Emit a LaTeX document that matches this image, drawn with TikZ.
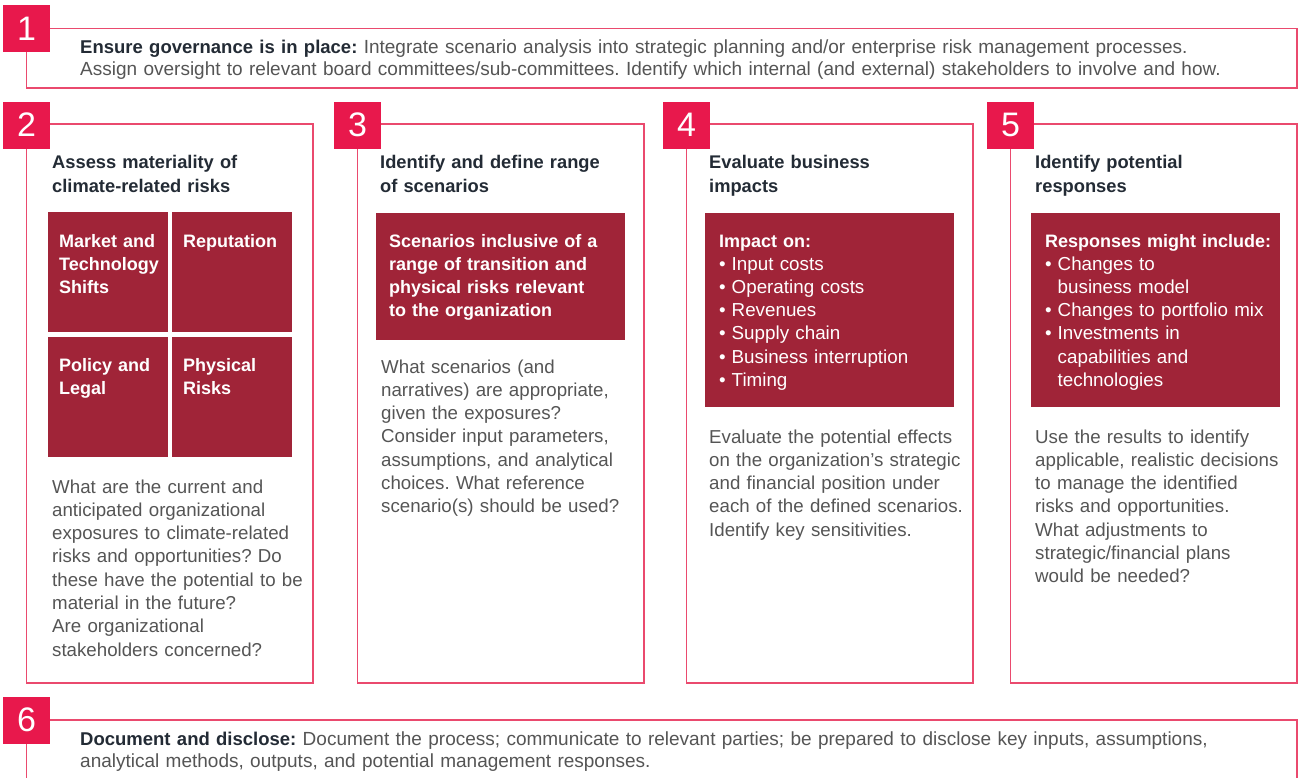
\documentclass[tikz,border=0pt]{standalone}
\usepackage{fontspec}
\setmainfont{Liberation Sans}
\definecolor{numred}{HTML}{E8184C}
\definecolor{framecol}{HTML}{EA4A6E}
\definecolor{darkred}{HTML}{A02438}
\definecolor{bodygray}{HTML}{555555}
\definecolor{headdark}{HTML}{232B35}
\newcommand{\myblt}{\makebox[12.5pt][l]{•}}
\newcommand{\myind}{\hspace*{12.5pt}}
\newcommand{\hb}[1]{{\color{headdark}\fontsize{18.5}{22.8}\selectfont\bfseries #1}}
\tikzset{
  frame/.style={draw=framecol, line width=1.8pt, anchor=north west, inner sep=0pt, outer sep=0pt},
  numbox/.style={fill=numred, minimum size=47pt, inner sep=0pt, text=white, font=\fontsize{34}{34}\selectfont},
  darkbox/.style={fill=darkred, anchor=north west, inner sep=0pt, outer sep=0pt},
  bodytxt/.style={anchor=base west, inner sep=0pt, align=left, text=bodygray, font=\fontsize{18.7}{23.3}\selectfont\frenchspacing},
  headtxt/.style={anchor=base west, inner sep=0pt, align=left, text=headdark, font=\fontsize{18.3}{24}\selectfont\bfseries},
  filltxt/.style={anchor=base west, inner sep=0pt, align=left, text=white, font=\fontsize{18}{23.3}\selectfont\bfseries},
  listtxt/.style={anchor=base west, inner sep=0pt, align=left, text=white, font=\fontsize{18.8}{23.3}\selectfont},
}
\begin{document}
\begin{tikzpicture}[x=1pt,y=-1pt]
\useasboundingbox (0,0) rectangle (1299,777);
\clip (0,0) rectangle (1299,777);
\fill[white] (0,0) rectangle (1299,777);

% ---------- frames ----------
\node[frame, minimum width=1270.5pt, minimum height=59.5pt] (f1) at (26.5,28.5) {};
\node[frame, minimum width=286.5pt, minimum height=559pt] (f2) at (26.5,124) {};
\node[frame, minimum width=286.5pt, minimum height=559pt] (f3) at (357.5,124) {};
\node[frame, minimum width=286.5pt, minimum height=559pt] (f4) at (686.5,124) {};
\node[frame, minimum width=286.5pt, minimum height=559pt] (f5) at (1010.5,124) {};
\node[frame, minimum width=1270.5pt, minimum height=100pt] (f6) at (26.5,720) {};

% ---------- number squares ----------
\node[numbox] (n1) at (26.5,28.5) {1};
\node[numbox] (n2) at (26.5,125) {2};
\node[numbox] (n3) at (357.5,125) {3};
\node[numbox] (n4) at (686.5,125) {4};
\node[numbox] (n5) at (1010.5,125) {5};
\node[numbox] (n6) at (26.5,720) {6};

% ---------- box 1 ----------
\node[bodytxt, text width=1230pt, font=\fontsize{19}{22.8}\selectfont\frenchspacing] (t1) at (80,53)
  {\hb{Ensure governance is in place:} Integrate scenario analysis into strategic planning and/or enterprise risk management processes.\\
   Assign oversight to relevant board committees/sub-committees. Identify which internal (and external) stakeholders to involve and how.};

% ---------- box 2 ----------
\node[headtxt, text width=260pt] (h2) at (52,168) {Assess materiality of\\climate-related risks};
\node[darkbox, minimum width=120pt, minimum height=120pt] (c21) at (48,212) {};
\node[darkbox, minimum width=120pt, minimum height=120pt] (c22) at (172,212) {};
\node[darkbox, minimum width=120pt, minimum height=120pt] (c23) at (48,337) {};
\node[darkbox, minimum width=120pt, minimum height=120pt] (c24) at (172,337) {};
\node[filltxt, text width=115pt] (l21) at (59,247) {Market and\\Technology\\Shifts};
\node[filltxt, text width=115pt] (l22) at (183,247) {Reputation};
\node[filltxt, text width=115pt] (l23) at (59,371) {Policy and\\Legal};
\node[filltxt, text width=115pt] (l24) at (183,371) {Physical\\Risks};
\node[bodytxt, text width=260pt] (b2) at (52,493)
  {What are the current and\\anticipated organizational\\exposures to climate-related\\risks and opportunities? Do\\these have the potential to be\\material in the future?\\Are organizational\\stakeholders concerned?};

% ---------- box 3 ----------
\node[headtxt, text width=260pt] (h3) at (380,168) {Identify and define range\\of scenarios};
\node[darkbox, minimum width=249pt, minimum height=127pt] (d3) at (376,213) {};
\node[filltxt, text width=235pt] (l3) at (389,247)
  {Scenarios inclusive of a\\range of transition and\\physical risks relevant\\to the organization};
\node[bodytxt, text width=260pt] (b3) at (381,373)
  {What scenarios (and\\narratives) are appropriate,\\given the exposures?\\Consider input parameters,\\assumptions, and analytical\\choices. What reference\\scenario(s) should be used?};

% ---------- box 4 ----------
\node[headtxt, text width=260pt] (h4) at (709,168) {Evaluate business\\impacts};
\node[darkbox, minimum width=249pt, minimum height=194pt] (d4) at (705,213) {};
\node[filltxt, text width=235pt] (l4) at (719,247) {Impact on:};
\node[listtxt, text width=235pt] (m4) at (719,270)
  {\myblt Input costs\\\myblt Operating costs\\\myblt Revenues\\\myblt Supply chain\\\myblt Business interruption\\\myblt Timing};
\node[bodytxt, text width=265pt] (b4) at (709,443)
  {Evaluate the potential effects\\on the organization’s strategic\\and financial position under\\each of the defined scenarios.\\Identify key sensitivities.};

% ---------- box 5 ----------
\node[headtxt, text width=260pt] (h5) at (1035,168) {Identify potential\\responses};
\node[darkbox, minimum width=249pt, minimum height=194pt] (d5) at (1031,213) {};
\node[filltxt, text width=240pt] (l5) at (1045,247) {Responses might include:};
\node[listtxt, text width=240pt] (m5) at (1045,270)
  {\myblt Changes to\\\myind business model\\\myblt Changes to portfolio mix\\\myblt Investments in\\\myind capabilities and\\\myind technologies};
\node[bodytxt, text width=260pt] (b5) at (1035,443)
  {Use the results to identify\\applicable, realistic decisions\\to manage the identified\\risks and opportunities.\\What adjustments to\\strategic/financial plans\\would be needed?};

% ---------- box 6 ----------
\node[bodytxt, text width=1230pt, font=\fontsize{19}{22.8}\selectfont\frenchspacing] (t6) at (80,745)
  {\hb{Document and disclose:} Document the process; communicate to relevant parties; be prepared to disclose key inputs, assumptions,\\
   analytical methods, outputs, and potential management responses.};
\end{tikzpicture}
\end{document}
